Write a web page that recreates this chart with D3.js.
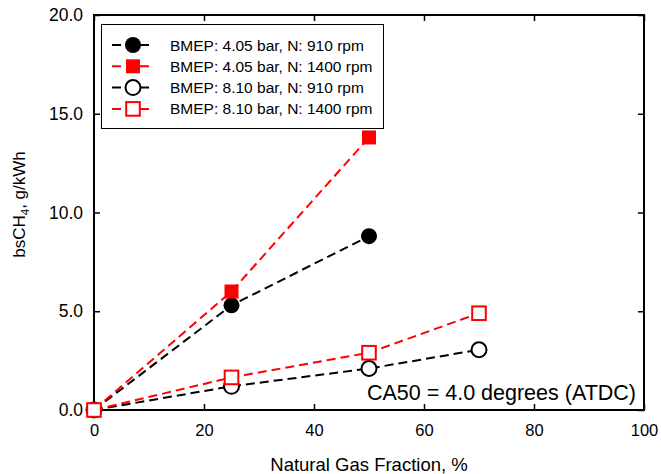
<!DOCTYPE html>
<html>
<head>
<meta charset="utf-8">
<script src="https://cdn.jsdelivr.net/npm/d3@7"></script>
<style>
  html, body { margin: 0; padding: 0; background: #fff; }
  svg { display: block; font-family: "Liberation Sans", Arial, Helvetica, sans-serif; }
</style>
</head>
<body>
<svg id="chart" width="661" height="474"></svg>
<script>
// Natural gas fraction (%) at each measured point
const fraction4_910 = [0, 25, 50];
const fraction4_1400 = [0, 25, 50];
const fraction8_910 = [0, 25, 50, 70];
const fraction8_1400 = [0, 25, 50, 70];

// Brake-specific CH4 emissions (g/kWh)
const ch4_4_910 = [0, 5.3, 8.8];
const ch4_4_1400 = [0, 6.0, 13.8];
const ch4_8_910 = [0, 1.2, 2.1, 3.05];
const ch4_8_1400 = [0, 1.65, 2.9, 4.9];

const seriesLabels = [
  "BMEP: 4.05 bar, N: 910 rpm",
  "BMEP: 4.05 bar, N: 1400 rpm",
  "BMEP: 8.10 bar, N: 910 rpm",
  "BMEP: 8.10 bar, N: 1400 rpm"
];
const xTicks = [0, 20, 40, 60, 80, 100];
const yTicks = [0, 5, 10, 15, 20];
const annotation = "CA50 = 4.0 degrees (ATDC)";

const series = [
  { name: seriesLabels[0], xs: fraction4_910, ys: ch4_4_910, color: "#000", shape: "circle", filled: true },
  { name: seriesLabels[1], xs: fraction4_1400, ys: ch4_4_1400, color: "#ff0000", shape: "square", filled: true },
  { name: seriesLabels[2], xs: fraction8_910, ys: ch4_8_910, color: "#000", shape: "circle", filled: false },
  { name: seriesLabels[3], xs: fraction8_1400, ys: ch4_8_1400, color: "#ff0000", shape: "square", filled: false }
];

const svg = d3.select("#chart");
const margin = { left: 94, right: 17, top: 15, bottom: 64 };
const W = 661, H = 474;
const x = d3.scaleLinear().domain([0, 100]).range([margin.left, W - margin.right]);
const y = d3.scaleLinear().domain([0, 20]).range([H - margin.bottom, margin.top]);

const fmt = d3.format(".1f");
const tickLen = 6;

// Axes: labelled bottom/left, bare inward ticks on top/right
svg.append("g")
  .attr("transform", `translate(0,${y(0)})`)
  .call(d3.axisBottom(x).tickValues(xTicks).tickSize(-tickLen).tickPadding(14).tickFormat(d3.format("d")))
  .call(g => g.selectAll("text").attr("font-size", 16.5).attr("fill", "#000"));
svg.append("g")
  .attr("transform", `translate(${x(0)},0)`)
  .call(d3.axisLeft(y).tickValues(yTicks).tickSize(-tickLen).tickPadding(11).tickFormat(fmt))
  .call(g => g.selectAll("text").attr("font-size", 17.5).attr("fill", "#000"));
svg.append("g")
  .attr("transform", `translate(0,${y(20)})`)
  .call(d3.axisTop(x).tickValues(xTicks).tickSize(-tickLen).tickFormat(""));
svg.append("g")
  .attr("transform", `translate(${x(100)},0)`)
  .call(d3.axisRight(y).tickValues(yTicks).tickSize(-tickLen).tickFormat(""));
svg.selectAll(".domain").remove();
svg.selectAll(".tick line").attr("stroke", "#000").attr("stroke-width", 1.5);

// Plot frame
svg.append("rect")
  .attr("x", x(0)).attr("y", y(20))
  .attr("width", x(100) - x(0)).attr("height", y(0) - y(20))
  .attr("fill", "none").attr("stroke", "#000").attr("stroke-width", 2);

// Axis titles
svg.append("text")
  .attr("x", (x(0) + x(100)) / 2).attr("y", 471)
  .attr("text-anchor", "middle").attr("font-size", 18.5)
  .text("Natural Gas Fraction, %");
const yt = svg.append("text")
  .attr("transform", `translate(25,${(y(0) + y(20)) / 2 - 8}) rotate(-90)`)
  .attr("text-anchor", "middle").attr("font-size", 17);
yt.append("tspan").text("bsCH");
yt.append("tspan").attr("font-size", 11.5).attr("dy", 4).text("4");
yt.append("tspan").attr("dy", -4).text(", g/kWh");

// Marker drawing shared by plot and legend
function drawMarker(g, s, cx, cy) {
  if (s.shape === "circle") {
    g.append("circle").attr("cx", cx).attr("cy", cy).attr("r", s.filled ? 8 : 7.5)
      .attr("fill", s.filled ? s.color : "#fff")
      .attr("stroke", s.color).attr("stroke-width", s.filled ? 0 : 2);
  } else {
    const h = s.filled ? 7 : 6.8;
    g.append("rect").attr("x", cx - h).attr("y", cy - h).attr("width", 2 * h).attr("height", 2 * h)
      .attr("fill", s.filled ? s.color : "#fff")
      .attr("stroke", s.color).attr("stroke-width", s.filled ? 0 : 2);
  }
}

// Dashed series lines
const line = d3.line().x(d => x(d[0])).y(d => y(d[1]));
const plot = svg.append("g");
series.forEach(s => {
  const pts = s.xs.map((v, i) => [v, s.ys[i]]);
  plot.append("path").datum(pts).attr("d", line)
    .attr("fill", "none").attr("stroke", s.color).attr("stroke-width", 2)
    .attr("stroke-dasharray", "9,5");
});
series.forEach(s => {
  const g = plot.append("g");
  s.xs.forEach((v, i) => drawMarker(g, s, x(v), y(s.ys[i])));
});

// Annotation
svg.append("text")
  .attr("x", x(100) - 8).attr("y", 400)
  .attr("text-anchor", "end").attr("font-size", 21.5)
  .text(annotation);

// Legend
const lg = svg.append("g");
lg.append("rect").attr("x", 101.5).attr("y", 24.5).attr("width", 282).attr("height", 104)
  .attr("fill", "#fff").attr("stroke", "#000").attr("stroke-width", 1);
series.forEach((s, i) => {
  const cy = 45 + i * 21.3;
  lg.append("line").attr("x1", 112).attr("x2", 154).attr("y1", cy).attr("y2", cy)
    .attr("stroke", s.color).attr("stroke-width", 2).attr("stroke-dasharray", "9,5");
  drawMarker(lg, s, 133, cy);
  lg.append("text").attr("x", 170).attr("y", cy + 5.5).attr("font-size", 15.5).text(s.name);
});
</script>
</body>
</html>
